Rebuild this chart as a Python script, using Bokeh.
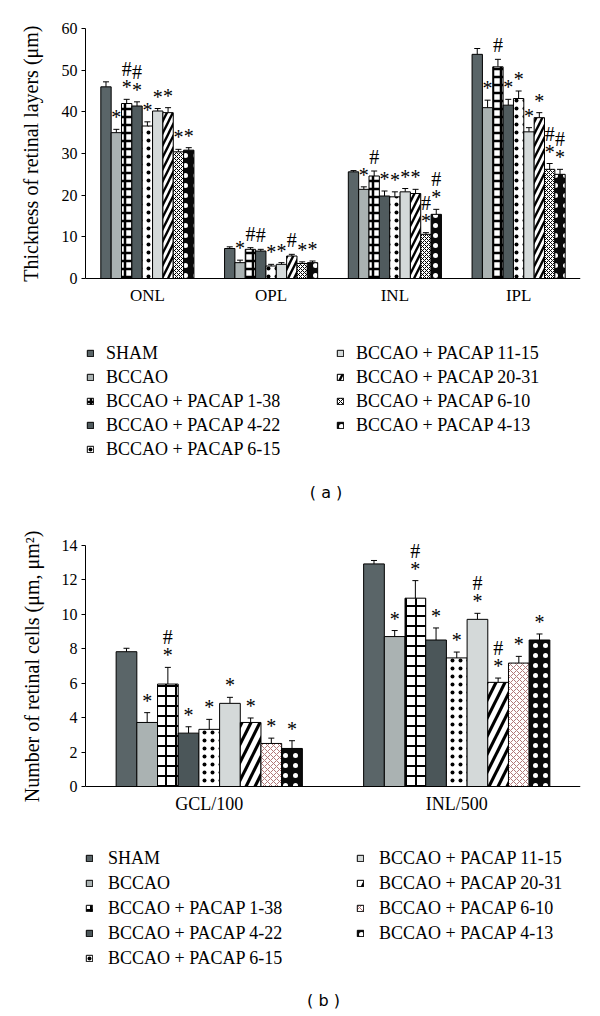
from bokeh.plotting import figure
from bokeh.models import (ColumnDataSource, FactorRange, Range1d, Whisker, TeeHead,
                          LabelSet, Legend, LegendItem, Label, Span, Title,
                          SingleIntervalTicker)
from bokeh.transform import dodge
from bokeh.layouts import column
from bokeh.embed import file_html
from bokeh.resources import INLINE

# ---------------- data ----------------
groups = ["SHAM", "BCCAO", "BCCAO + PACAP 1-38", "BCCAO + PACAP 4-22",
          "BCCAO + PACAP 6-15", "BCCAO + PACAP 11-15", "BCCAO + PACAP 20-31",
          "BCCAO + PACAP 6-10", "BCCAO + PACAP 4-13"]

# chart (a): thickness of retinal layers
layers_a = ["ONL", "OPL", "INL", "IPL"]
onl_mean = [46.0, 35.0, 42.0, 41.4, 36.6, 40.2, 39.8, 30.4, 30.8]
onl_err = [1.2, 0.8, 1.0, 1.0, 1.0, 0.6, 1.2, 0.6, 0.6]
opl_mean = [7.2, 3.8, 7.0, 6.6, 3.0, 3.4, 5.4, 3.6, 3.8]
opl_err = [0.4, 0.6, 0.4, 0.4, 0.4, 0.4, 0.4, 0.4, 0.4]
inl_mean = [25.6, 21.4, 24.6, 19.8, 19.6, 20.8, 20.4, 10.6, 15.4]
inl_err = [0.3, 0.6, 1.2, 1.2, 1.2, 0.8, 1.0, 0.4, 1.2]
ipl_mean = [53.8, 41.0, 50.8, 41.6, 43.2, 35.2, 38.6, 26.2, 25.0]
ipl_err = [1.4, 1.8, 1.8, 1.4, 1.8, 1.0, 1.2, 1.4, 1.2]
onl_sig = ["", "*", "#*", "#*", "*", "*", "*", "*", "*"]
opl_sig = ["", "*", "#", "#", "*", "*", "#", "*", "*"]
inl_sig = ["", "*", "#", "*", "*", "*", "*", "#*", "#*"]
ipl_sig = ["", "*", "#", "*", "*", "*", "*", "#*", "#*"]

# chart (b): number of retinal cells
layers_b = ["GCL/100", "INL/500"]
gcl_mean = [7.83, 3.72, 5.95, 3.10, 3.32, 4.83, 3.72, 2.50, 2.21]
gcl_err = [0.20, 0.57, 0.97, 0.37, 0.58, 0.35, 0.26, 0.31, 0.45]
inl500_mean = [12.93, 8.71, 10.94, 8.51, 7.47, 9.71, 6.05, 7.17, 8.51]
inl500_err = [0.20, 0.35, 1.02, 0.70, 0.34, 0.35, 0.25, 0.39, 0.35]
gcl_sig = ["", "*", "#*", "*", "*", "*", "*", "*", "*"]
inl500_sig = ["", "*", "#*", "*", "*", "#*", "#*", "*", "*"]

# ---------------- styles ----------------
SERIF = "Liberation Serif"


def solid(c):
    return dict(fill_color=c)


def hatch(fill, pattern, color, scale, weight):
    return dict(fill_color=fill, hatch_pattern=pattern, hatch_color=color,
                hatch_scale=scale, hatch_weight=weight)


def styles_a():
    return [solid("#5a6568"), solid("#aab2b2"), hatch("white", "+", "black", 8, 2.5),
            solid("#505b5e"), hatch("white", ".", "black", 8, 1.5), solid("#d4d9d9"),
            hatch("black", "/", "white", 12, 3), hatch("white", "x", "black", 4, 1),
            hatch("#0a0a0a", ".", "white", 10, 1)]


def styles_b():
    return [solid("#5a6568"), solid("#aab2b2"), hatch("white", "+", "black", 10, 2),
            solid("#4b5659"), hatch("white", ".", "black", 8, 1), solid("#d4d9d9"),
            hatch("black", "/", "white", 18, 5), hatch("white", "x", "#b07878", 6, 1),
            hatch("#0a0a0a", ".", "white", 10, 1)]


BAR_W = 0.0836
ITEM_H = 21


def build(cats, means, errs, sigs, styles, ymax, yint, ylabel, L):
    # L: layout dict in figure pixel coordinates
    ppu = (L["zero"] - L["top_val"]) / ymax
    y_end = ymax + (L["top_val"] - L["frame_top"]) / ppu
    y_start = -(L["frame_bottom"] - L["zero"]) / ppu
    p = figure(width=600, height=L["height"], x_range=FactorRange(*cats, range_padding=0),
               y_range=Range1d(y_start, y_end), output_backend="svg",
               toolbar_location=None,
               min_border_left=L["left"], min_border_right=20,
               min_border_top=L["frame_top"],
               min_border_bottom=L["height"] - L["frame_bottom"])
    p.outline_line_color = None
    p.xgrid.grid_line_color = None
    p.ygrid.grid_line_color = None
    p.background_fill_color = "white"
    p.xaxis.visible = False

    ya = p.yaxis[0]
    ya.bounds = (0, ymax)
    ya.ticker = SingleIntervalTicker(interval=yint)
    ya.minor_tick_line_color = None
    ya.major_tick_out = 4
    ya.major_tick_in = 0
    ya.major_label_standoff = 4
    ya.major_label_text_font = SERIF
    ya.major_label_text_font_size = "16px"
    ya.major_label_text_color = "black"
    ya.axis_line_color = "black"
    ya.major_tick_line_color = "black"

    # y-axis title, aligned to the top of the value axis
    p.add_layout(Title(text=ylabel, align="right", offset=L["ttl_offset"],
                       standoff=L["ttl_standoff"], text_font=SERIF,
                       text_font_size="20px", text_font_style="normal",
                       text_color="black"), "left")

    # category baseline and labels
    p.add_layout(Span(location=0, dimension="width", line_color="black", line_width=1))
    csrc = ColumnDataSource(dict(cat=cats, zero=[0] * len(cats)))
    p.add_layout(LabelSet(x="cat", y="zero", text="cat", source=csrc, y_offset=-17,
                          text_align="center", text_baseline="middle",
                          text_font=SERIF, text_font_size=L["cat_font"],
                          text_color="black"))

    n = len(groups)
    renderers = []
    for i in range(n):
        val = [m[i] for m in means]
        hi = [m[i] + e[i] for m, e in zip(means, errs)]
        sg = [s[i] for s in sigs]
        star = ["*" if "*" in s else "" for s in sg]
        hash_lone = ["#" if s == "#" else "" for s in sg]
        hash_top = ["#" if ("#" in s and "*" in s) else "" for s in sg]
        src = ColumnDataSource(dict(cat=cats, val=val, hi=hi, star=star,
                                    hl=hash_lone, ht=hash_top))
        off = (i - (n - 1) / 2) * BAR_W
        xs = dodge("cat", off, range=p.x_range)
        w = Whisker(source=src, base=xs, lower="val", upper="hi", line_color="black",
                    line_width=1, lower_head=None,
                    upper_head=TeeHead(size=6, line_color="black", line_width=1))
        p.add_layout(w)
        r = p.vbar(x=xs, top="val", width=BAR_W, source=src, line_color="black",
                   line_width=1, **styles[i])
        renderers.append(r)
        for col, yo in (("star", 1), ("hl", 3), ("ht", 19)):
            p.add_layout(LabelSet(x=xs, y="hi", text=col, source=src, y_offset=yo,
                                  text_align="center", text_baseline="bottom",
                                  text_font=SERIF, text_font_size="20px",
                                  text_color="black"))

    # two legend columns, positioned from the frame's bottom-left corner
    pad = L["leg_pad"]
    sp = L["leg_spacing"]
    for idxs, gx in ((range(0, 5), L["leg_left"]), (range(5, 9), L["leg_right"])):
        items = [LegendItem(label=groups[k], renderers=[renderers[k]]) for k in idxs]
        cnt = len(items)
        lh = 2 * pad + cnt * ITEM_H + (cnt - 1) * sp
        box_top = L["leg_row1"] - ITEM_H / 2 - pad
        vy = L["frame_bottom"] - (box_top + lh)
        leg = Legend(items=items, location=(gx - pad - L["left"], vy), padding=pad,
                     margin=0, spacing=sp, glyph_width=8, glyph_height=8,
                     label_height=20, label_standoff=L["leg_standoff"],
                     label_text_font=SERIF, label_text_font_size="18px",
                     label_text_color="black", border_line_color=None,
                     background_fill_alpha=0)
        p.add_layout(leg)

    tx = (L["tag_x"] - L["left"]) / ((600 - 20 - L["left"]) / len(cats))
    ty = -(L["tag_y"] - L["zero"]) / ppu
    p.add_layout(Label(x=tx, y=ty, text=L["tag"], text_align="center",
                       text_baseline="middle", text_font="DejaVu Sans",
                       text_font_size="16px", text_color="black"))
    return p


layout_a = dict(height=520, frame_top=18, top_val=28, zero=278, frame_bottom=515,
                left=80, ttl_offset=7, ttl_standoff=33, cat_font="17px",
                leg_pad=2, leg_spacing=3, leg_left=83, leg_right=333, leg_row1=351,
                leg_standoff=12, tag="( a )", tag_x=323, tag_y=492)
layout_b = dict(height=496, frame_top=10, top_val=25, zero=266, frame_bottom=492,
                left=85, ttl_offset=0, ttl_standoff=31, cat_font="18px",
                leg_pad=0, leg_spacing=4, leg_left=85, leg_right=356, leg_row1=338,
                leg_standoff=15, tag="( b )", tag_x=323, tag_y=480)

p1 = build(layers_a, [onl_mean, opl_mean, inl_mean, ipl_mean],
           [onl_err, opl_err, inl_err, ipl_err], [onl_sig, opl_sig, inl_sig, ipl_sig],
           styles_a(), 60, 10, "Thickness of retinal layers (\u03bcm)", layout_a)

p2 = build(layers_b, [gcl_mean, inl500_mean], [gcl_err, inl500_err],
           [gcl_sig, inl500_sig], styles_b(), 14, 2,
           "Number of retinal cells (\u03bcm, \u03bcm\u00b2)", layout_b)

layout = column(p1, p2)
open("out.html", "w").write(file_html(layout, INLINE))
